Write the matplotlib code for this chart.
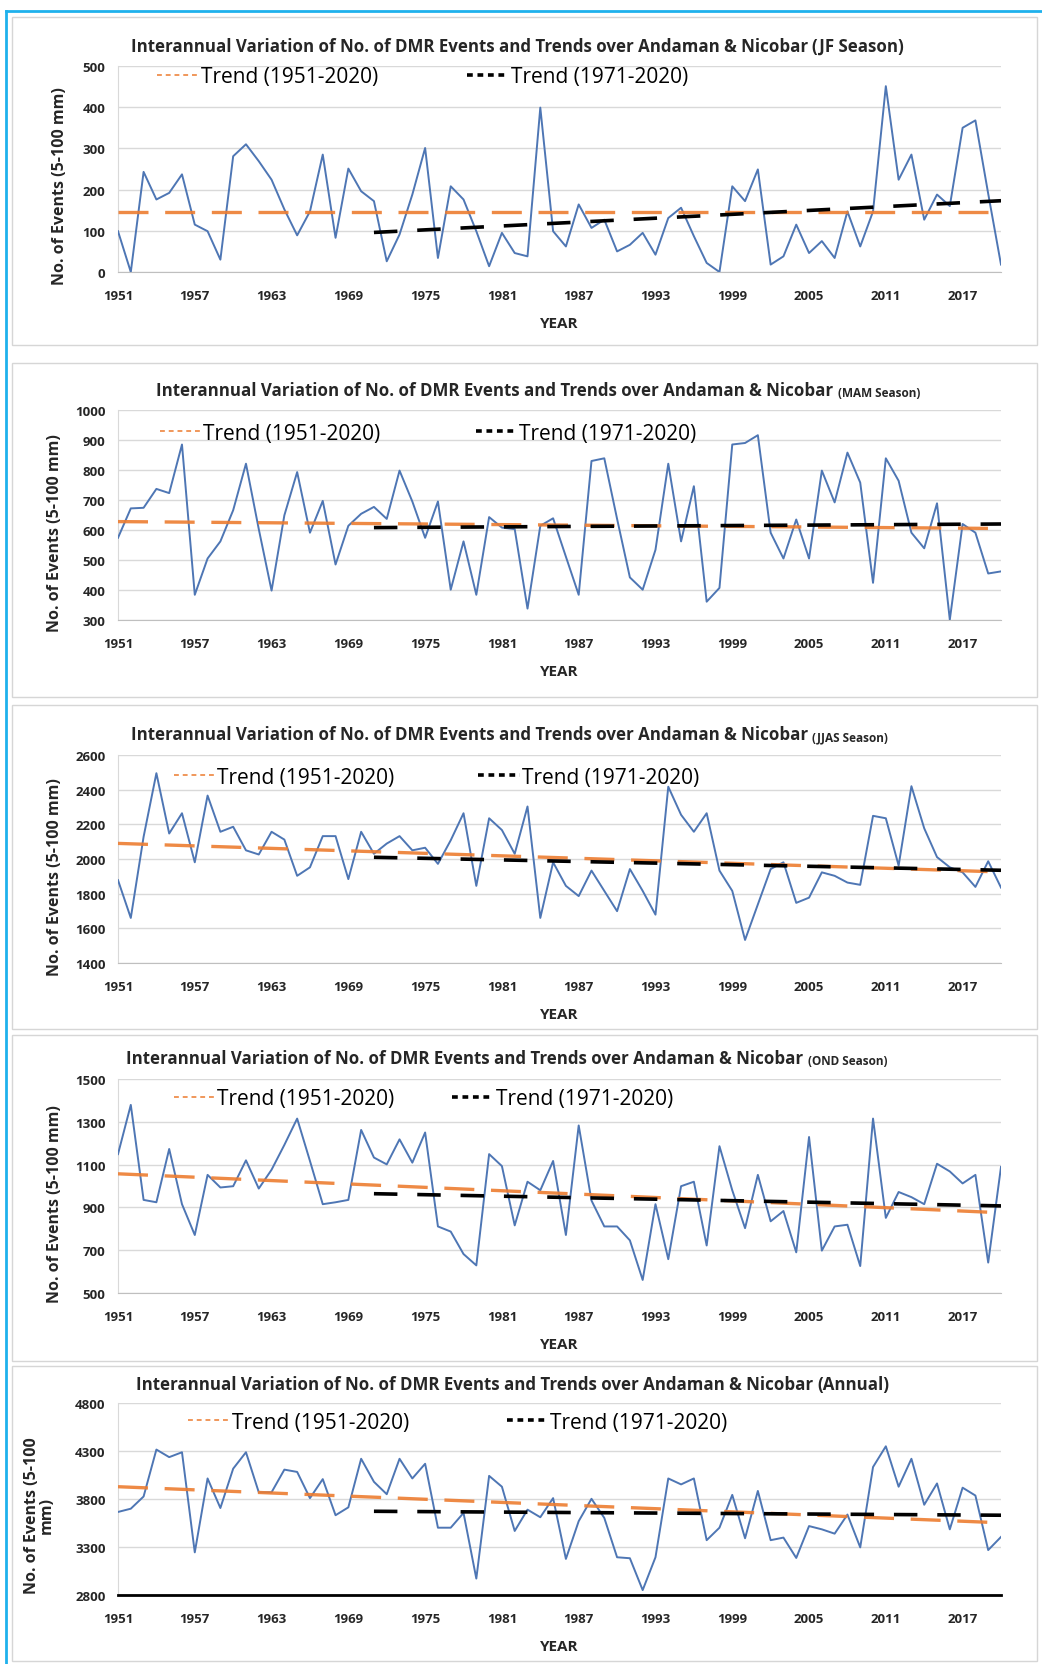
import numpy as np
import matplotlib.pyplot as plt
from matplotlib.lines import Line2D
from matplotlib.patches import Rectangle
from matplotlib.transforms import offset_copy

plt.rcParams['font.family'] = ['Open Sans', 'DejaVu Sans']

years = np.arange(1951, 2021)
year_ticks = list(range(1951, 2021, 6))

# number of DMR events per season, 1951-2020
jf_events = [99, 0, 243, 176, 192, 237, 115, 99, 30, 281,
             310, 269, 224, 152, 89, 147, 285, 83, 251, 196,
             172, 26, 91, 188, 301, 34, 208, 176, 99, 14,
             95, 46, 38, 399, 99, 62, 164, 107, 127, 50,
             66, 95, 42, 131, 156, 87, 22, 0, 208, 172,
             249, 18, 38, 115, 46, 75, 34, 147, 62, 147,
             451, 224, 285, 127, 188, 160, 350, 368, 190, 18]
mam_events = [574, 672, 674, 737, 723, 885, 384, 505, 562, 666,
              821, 603, 398, 649, 793, 591, 697, 485, 614, 654,
              677, 637, 798, 695, 574, 695, 401, 562, 384, 643,
              608, 603, 338, 614, 639, 511, 384, 830, 839, 637,
              442, 401, 534, 821, 562, 746, 361, 407, 885, 890,
              916, 591, 505, 635, 505, 798, 692, 858, 758, 424,
              839, 764, 591, 539, 689, 301, 620, 591, 455, 462]
jjas_events = [1878, 1660, 2128, 2495, 2147, 2264, 1981, 2366, 2157, 2186,
               2050, 2026, 2157, 2112, 1903, 1952, 2132, 2132, 1884, 2157,
               2030, 2089, 2132, 2050, 2065, 1972, 2108, 2264, 1845, 2235,
               2167, 2030, 2303, 1660, 1981, 1845, 1786, 1933, 1816, 1699,
               1942, 1816, 1679, 2417, 2255, 2157, 2264, 1933, 1816, 1533,
               1738, 1942, 1981, 1747, 1777, 1923, 1903, 1864, 1851, 2249,
               2235, 1962, 2420, 2177, 2011, 1952, 1923, 1839, 1987, 1835]
ond_events = [1149, 1379, 935, 924, 1173, 915, 771, 1052, 993, 999,
              1120, 988, 1076, 1192, 1315, 1117, 915, 924, 935, 1262,
              1133, 1101, 1218, 1109, 1250, 811, 787, 682, 629, 1149,
              1093, 816, 1020, 980, 1117, 771, 1283, 932, 811, 811,
              746, 561, 915, 658, 999, 1020, 722, 1186, 980, 803,
              1052, 835, 883, 690, 1229, 698, 811, 819, 626, 1315,
              851, 972, 948, 915, 1104, 1068, 1012, 1052, 642, 1089]
annual_events = [3665, 3699, 3826, 4315, 4236, 4287, 3244, 4014, 3706, 4116,
                 4287, 3870, 3870, 4106, 4082, 3809, 4007, 3631, 3713, 4219,
                 3979, 3850, 4219, 4014, 4167, 3501, 3501, 3655, 2971, 4041,
                 3928, 3467, 3689, 3610, 3809, 3176, 3569, 3802, 3603, 3193,
                 3183, 2851, 3193, 4014, 3952, 4014, 3371, 3501, 3843, 3391,
                 3884, 3371, 3398, 3186, 3518, 3484, 3439, 3638, 3296, 4133,
                 4349, 3928, 4219, 3740, 3962, 3484, 3918, 3836, 3268, 3405]

# linear trends: value at start year and at 2020
trend_long_years = [1951, 2020]
trend_short_years = [1971, 2020]
jf_trend_long = [145, 145]
jf_trend_short = [96, 173]
mam_trend_long = [628, 605]
mam_trend_short = [608, 620]
jjas_trend_long = [2090, 1925]
jjas_trend_short = [2010, 1935]
ond_trend_long = [1057, 875]
ond_trend_short = [964, 907]
annual_trend_long = [3928, 3552]
annual_trend_short = [3672, 3631]

title_main = 'Interannual Variation of No. of DMR Events and Trends over Andaman & Nicobar '
ylabel = 'No. of Events (5-100 mm)'

BLUE = '#4e76b4'
ORANGE = '#ed7d31'
GRID = '#d9d9d9'
TEXT = '#262626'

W, H = 1042, 1665
fig = plt.figure(figsize=(W / 100, H / 100), dpi=100)
fig.patch.set_facecolor('white')

AX_L, AX_R = 118, 1001

panels = [
    dict(data=jf_events, long=jf_trend_long, short=jf_trend_short,
         ylim=(0, 500), yticks=range(0, 501, 100), suffix='(JF Season)', small=False,
         ax_y=(67, 273), box=(18, 346), title_x=131, title_y=47,
         leg=(0.044, 0.395, 0.947), ylab=ylabel, ylab_x=-58),
    dict(data=mam_events, long=mam_trend_long, short=mam_trend_short,
         ylim=(300, 1000), yticks=range(300, 1001, 100), suffix='(MAM Season)', small=True,
         ax_y=(411, 621), box=(364, 698), title_x=156, title_y=391,
         leg=(0.047, 0.405, 0.89), ylab=ylabel, ylab_x=-63),
    dict(data=jjas_events, long=jjas_trend_long, short=jjas_trend_short,
         ylim=(1400, 2600), yticks=range(1400, 2601, 200), suffix='(JJAS Season)', small=True,
         ax_y=(756, 964), box=(706, 1030), title_x=131, title_y=735,
         leg=(0.063, 0.408, 0.894), ylab=ylabel, ylab_x=-63),
    dict(data=ond_events, long=ond_trend_long, short=ond_trend_short,
         ylim=(500, 1500), yticks=range(500, 1501, 200), suffix='(OND Season)', small=True,
         ax_y=(1080, 1294), box=(1036, 1362), title_x=126, title_y=1059,
         leg=(0.063, 0.378, 0.907), ylab=ylabel, ylab_x=-63),
    dict(data=annual_events, long=annual_trend_long, short=annual_trend_short,
         ylim=(2800, 4800), yticks=range(2800, 4801, 500), suffix='(Annual)', small=False,
         ax_y=(1404, 1596), box=(1367, 1662), title_x=136, title_y=1385,
         leg=(0.079, 0.44, 0.90), ylab='No. of Events (5-100\nmm)', ylab_x=-79),
]

# outer frame: cyan rule on top and left
fig.add_artist(Line2D([6 / W, 1], [1 - 12 / H, 1 - 12 / H], transform=fig.transFigure,
                      color='#1fb1ec', lw=2))
fig.add_artist(Line2D([6 / W, 6 / W], [0, 1 - 12 / H], transform=fig.transFigure,
                      color='#1fb1ec', lw=2))

for i, p in enumerate(panels):
    btop, bbot = p['box']
    fig.add_artist(Rectangle((12 / W, 1 - bbot / H), (1037 - 12) / W, (bbot - btop) / H,
                             transform=fig.transFigure, fill=False, ec='#d6d6d6', lw=1))

    top, bot = p['ax_y']
    ax = fig.add_axes([AX_L / W, 1 - bot / H, (AX_R - AX_L) / W, (bot - top) / H])
    ax.set_facecolor('none')

    ax.plot(years, p['data'], color=BLUE, lw=1.4, zorder=3)
    ax.plot(trend_long_years, p['long'], color=ORANGE, lw=2.4,
            ls=(0, (9, 5)), alpha=0.9, zorder=4)
    ax.plot(trend_short_years, p['short'], color='black', lw=2.6,
            ls=(0, (6.5, 5.5)), zorder=5)

    ax.set_xlim(1951, 2020)
    ax.set_ylim(*p['ylim'])
    ax.set_yticks(list(p['yticks']))
    ax.set_xticks(year_ticks)
    ax.grid(axis='y', color=GRID, lw=1)
    ax.set_axisbelow(True)
    for s in ['top', 'right']:
        ax.spines[s].set_visible(False)
    ax.spines['left'].set_color(GRID)
    if i == 4:
        ax.spines['bottom'].set_color('black')
        ax.spines['bottom'].set_linewidth(2)
    else:
        ax.spines['bottom'].set_color('#bfbfbf')
    ax.tick_params(axis='x', length=0, pad=12, labelsize=9.5, labelcolor=TEXT)
    ax.tick_params(axis='y', length=0, pad=9, labelsize=9.5, labelcolor=TEXT)
    for lab in ax.get_xticklabels() + ax.get_yticklabels():
        lab.set_fontweight('bold')

    ax.text(0.5, 0, 'YEAR', transform=offset_copy(ax.transAxes, fig=fig, x=0, y=-51, units='dots'),
            ha='center', va='center', fontsize=11, fontweight='bold', color=TEXT)
    ax.text(0, 0.42, p['ylab'],
            transform=offset_copy(ax.transAxes, fig=fig, x=p['ylab_x'], y=0, units='dots'),
            ha='center', va='center', rotation=90, fontsize=11.5, fontweight='bold',
            color=TEXT, linespacing=0.9)

    t = fig.text(p['title_x'] / W, 1 - p['title_y'] / H, title_main, ha='left', va='center',
                 fontsize=12.2, fontweight='bold', color=TEXT)
    ax.annotate(p['suffix'], xy=(1, 0), xycoords=t, ha='left', va='bottom',
                fontsize=8.5 if p['small'] else 12.2, fontweight='bold', color=TEXT)

    # legend entries, placed separately as in the source chart
    lx1, lx2, ly = p['leg']
    h1 = Line2D([], [], color=ORANGE, lw=1.4, ls=(0, (2.5, 2)), alpha=0.8)
    h2 = Line2D([], [], color='black', lw=2.6, ls=(0, (1.6, 1.3)))
    leg1 = ax.legend([h1], ['Trend (1951-2020)'], loc='center left', bbox_to_anchor=(lx1, ly),
                     frameon=False, handlelength=2.0, handletextpad=0.1, borderpad=0,
                     borderaxespad=0, prop={'size': 15})
    ax.add_artist(leg1)
    ax.legend([h2], ['Trend (1971-2020)'], loc='center left', bbox_to_anchor=(lx2, ly),
              frameon=False, handlelength=2.0, handletextpad=0.1, borderpad=0,
              borderaxespad=0, prop={'size': 15})

fig.savefig('out.png', dpi=100, facecolor='white')
